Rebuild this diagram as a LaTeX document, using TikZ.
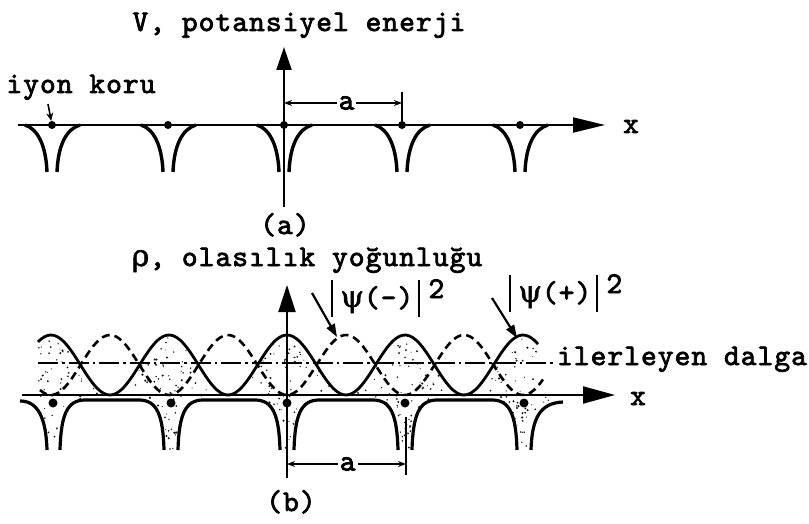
\documentclass[tikz,border=0pt]{standalone}
\usepackage{fontspec}
\newfontfamily\tw{lmmono10-regular}[Extension=.otf,LetterSpace=3.5,FakeBold=2.5]
\newfontfamily\gk{DejaVu Serif}[FakeBold=1.5]
\usetikzlibrary{arrows.meta}
\newcommand\mybar{\rule[-10pt]{2.2pt}{37pt}}
\begin{document}
\begin{tikzpicture}[x=1pt,y=-1pt,
  lbl/.style={font={\tw\fontsize{30pt}{32pt}\selectfont},inner sep=0pt},
  axisline/.style={line width=2pt},
  wellline/.style={line width=3.4pt},
  iondot/.style={circle,fill=black,inner sep=0pt,minimum size=8pt},
  dimline/.style={line width=1.6pt,{Stealth[length=8pt,width=6pt]}-{Stealth[length=8pt,width=6pt]}},
  ptr/.style={line width=2.2pt,-{Triangle[length=13pt,width=9pt]}},
  speck/.style={fill=black!90}]
\useasboundingbox (0,0) rectangle (809,524);

% ================= (a) =================
\node[lbl,anchor=base] (vlab) at (299,31) {V, potansiyel enerji};
\node[lbl,anchor=base] (iyon) at (81,93) {iyon koru};
\node[lbl,anchor=base] (xa) at (631,133) {x};
\node[lbl,anchor=base] (capa) at (285,234) {(a)};

\coordinate (xal) at (18,125);
\coordinate (xar) at (605,125);
\draw[axisline,-{Triangle[length=32pt,width=15pt]}] (xal) -- (xar);
\coordinate (vbot) at (284,207);
\coordinate (vtop) at (284,47);
\draw[axisline,-{Triangle[length=23pt,width=15pt]}] (vbot) -- (vtop);

\foreach \c in {52,168,284,402,520}{
  \draw[wellline] (\c-27,125) .. controls (\c-14,129) and (\c-6,146) .. (\c-5,172);
  \draw[wellline] (\c+28,125) .. controls (\c+14,129) and (\c+6,146) .. (\c+5,172);
}
\node[iondot] (ta1) at (52,125) {};
\node[iondot] (ta2) at (168,125) {};
\node[iondot] (ta3) at (284,125) {};
\node[iondot] (ta4) at (402,125) {};
\node[iondot] (ta5) at (520,125) {};

\coordinate (iyarr) at (48,104);
\draw[line width=1.6pt,-{Stealth[length=8pt,width=7pt]}] (iyarr) -- (ta1);

\coordinate (dta) at (402,92);
\draw[line width=1.8pt] (dta) -- (ta4);
\coordinate (dal) at (284,103);
\coordinate (dar) at (402,103);
\draw[dimline] (dal) -- node[lbl,fill=white,inner sep=2pt,pos=0.53] (ala) {a} (dar);

% ================= (b) =================
\node[lbl,anchor=base] (rholab) at (307,266) {{\gk ρ}, olasılık yoğunluğu};
\node[lbl,anchor=base] (ilr) at (682,365) {ilerleyen dalga};
\node[lbl,anchor=base] (xb) at (638,405) {x};
\node[lbl,anchor=base] (capb) at (291,511) {(b)};

% stipple under |psi(+)|^2
\pgfmathsetseed{11}
\begin{scope}
  \clip (38,395) -- plot[domain=38:538,samples=150] (\x,{395-30*(1+cos((\x-287)/118*360))}) -- (538,395) -- cycle;
  \foreach \i in {1,...,380}{
    \fill[speck] ({38+500*rnd},{333+62*rnd}) circle ({0.5+0.7*rnd});
  }
\end{scope}
% stipple in wells
\foreach \c in {53,171,287,405,524}{
  \begin{scope}
    \clip (\c-32,395) -- (\c-32,400) .. controls (\c-14,400) and (\c-8,415) .. (\c-7,450)
          -- (\c+7,450) .. controls (\c+8,415) and (\c+14,400) .. (\c+32,400) -- (\c+32,395) -- cycle;
    \foreach \i in {1,...,55}{
      \fill[speck] ({\c-32+64*rnd},{395+56*rnd}) circle ({0.5+0.7*rnd});
    }
  \end{scope}
}

% curves
\draw[line width=2.8pt] plot[domain=38:538,samples=160,smooth] (\x,{395-30*(1+cos((\x-287)/118*360))});
\draw[line width=2.6pt,dash pattern=on 8pt off 5pt] plot[domain=40:543,samples=160,smooth] (\x,{395-30*(1-cos((\x-287)/118*360))});
\coordinate (dd1) at (38,363);
\coordinate (dd2) at (553,363);
\draw[line width=1.6pt,dash pattern=on 20pt off 4pt on 2.5pt off 4pt] (dd1) -- (dd2);

% axes
\coordinate (xbl) at (22,395);
\coordinate (xbr) at (615,395);
\draw[axisline,-{Triangle[length=32pt,width=17pt]}] (xbl) -- (xbr);
\coordinate (rbot) at (287,478);
\coordinate (rtop) at (287,285);
\draw[axisline,-{Triangle[length=27pt,width=17pt]}] (rbot) -- (rtop);

% potential (b)
\draw[line width=3.2pt] (20,401) .. controls (38,401) and (46,418) .. (47,450);
\foreach \a/\b in {53/171,171/287,287/405,405/524}{
  \draw[line width=3.2pt] (\a+7,450) .. controls (\a+8,415) and (\a+14,400) .. (\a+32,400)
     -- (\b-32,400) .. controls (\b-14,400) and (\b-8,415) .. (\b-7,450);
}
\draw[line width=3.2pt] (531,450) .. controls (532,418) and (540,403) .. (563,402);

\node[iondot,minimum size=9pt] (tb1) at (53,403) {};
\node[iondot,minimum size=9pt] (tb2) at (171,403) {};
\node[iondot,minimum size=9pt] (tb3) at (287,403) {};
\node[iondot,minimum size=9pt] (tb4) at (405,403) {};
\node[iondot,minimum size=9pt] (tb5) at (524,403) {};

% dimension (b)
\coordinate (dbt) at (406,417);
\coordinate (dbb) at (406,475);
\draw[line width=1.8pt] (dbt) -- (dbb);
\coordinate (dbl) at (287,464);
\coordinate (dbr) at (406,464);
\draw[dimline] (dbl) -- node[lbl,fill=white,inner sep=2pt,pos=0.51] (alb) {a} (dbr);

% psi labels
\node[lbl,anchor=base west] (psim) at (331,307) {\mybar\kern7pt{\gk ψ}(-)\kern5pt\mybar\kern8pt\raisebox{9pt}{2}};
\node[lbl,anchor=base west] (psip) at (509,302) {\mybar\kern7pt{\gk ψ}(+)\kern5pt\mybar\kern8pt\raisebox{9pt}{2}};
\coordinate (pm1) at (312,293);
\coordinate (pm2) at (337,337);
\draw[ptr] (pm1) -- (pm2);
\coordinate (pp1) at (492,298);
\coordinate (pp2) at (517,338);
\draw[ptr] (pp1) -- (pp2);
\end{tikzpicture}
\end{document}
